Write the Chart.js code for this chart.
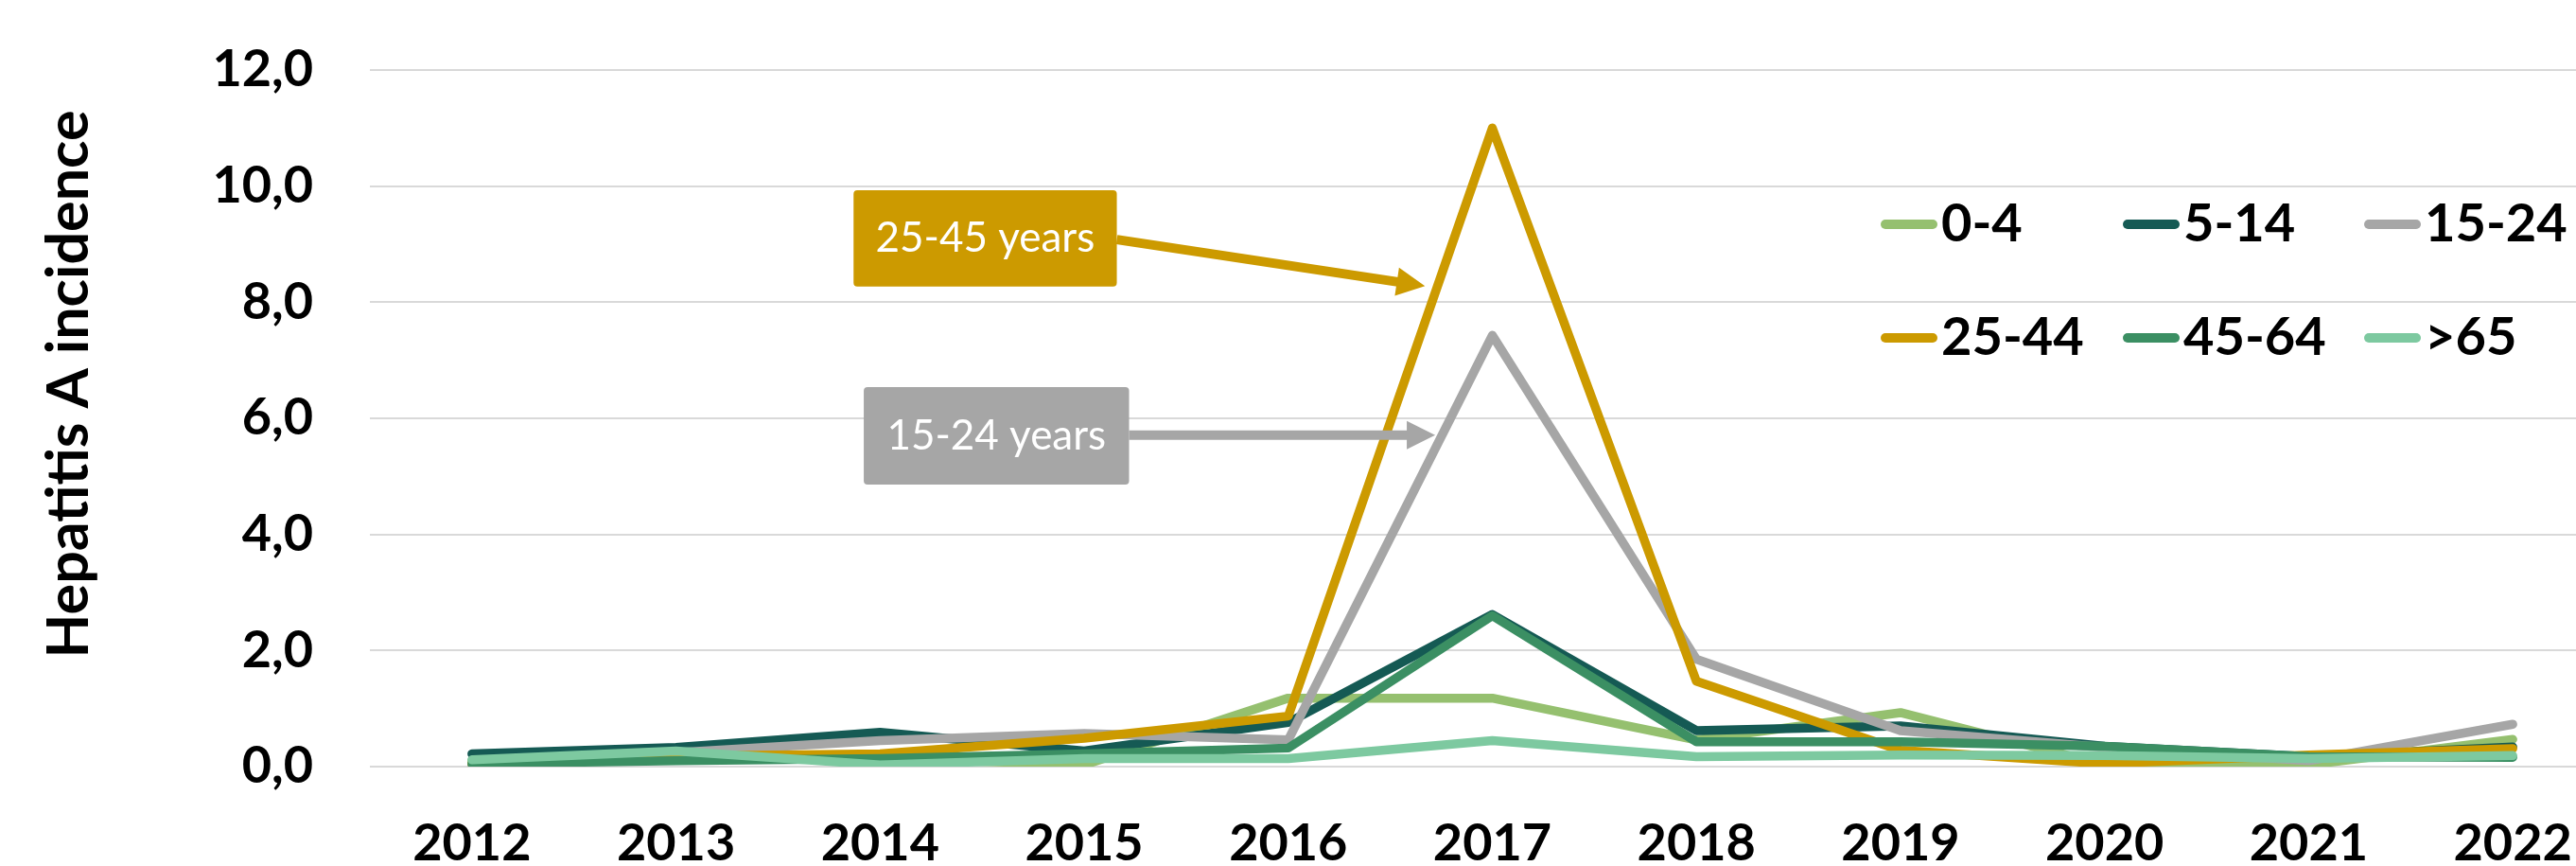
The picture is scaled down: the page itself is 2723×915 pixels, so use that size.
<!DOCTYPE html>
<html>
<head>
<meta charset="utf-8">
<title>Hepatitis A incidence by age group</title>
<script src="https://cdn.jsdelivr.net/npm/chart.js@4.4.1/dist/chart.umd.min.js"></script>
<style>
  html, body { margin: 0; padding: 0; background: #fff; }
  #wrap { position: relative; width: 2723px; height: 915px; }
</style>
</head>
<body>
<div id="wrap"><canvas id="hepa-chart"></canvas></div>
<script>
// data
var years = [2012, 2013, 2014, 2015, 2016, 2017, 2018, 2019, 2020, 2021, 2022];
var yearLabels = ['2012', '2013', '2014', '2015', '2016', '2017', '2018', '2019', '2020', '2021', '2022'];
var groups = ['0-4', '5-14', '15-24', '25-44', '45-64', '>65'];
var inc0to4   = [0.10, 0.25, 0.15, 0.03, 1.18, 1.18, 0.46, 0.93, 0.03, 0.03, 0.47];
var inc5to14  = [0.22, 0.33, 0.59, 0.27, 0.76, 2.62, 0.62, 0.70, 0.35, 0.17, 0.34];
var inc15to24 = [0.02, 0.24, 0.45, 0.57, 0.46, 7.43, 1.85, 0.62, 0.33, 0.10, 0.73];
var inc25to44 = [0.05, 0.18, 0.22, 0.49, 0.87, 11.0, 1.47, 0.28, 0.05, 0.20, 0.31];
var inc45to64 = [0.05, 0.10, 0.14, 0.22, 0.32, 2.60, 0.43, 0.43, 0.35, 0.17, 0.16];
var incOver65 = [0.12, 0.27, 0.03, 0.14, 0.14, 0.45, 0.17, 0.20, 0.19, 0.14, 0.19];
var yTickLabels = ['0,0', '2,0', '4,0', '6,0', '8,0', '10,0', '12,0'];

var series = [inc0to4, inc5to14, inc15to24, inc25to44, inc45to64, incOver65];
var lineColors = ['#95C06F', '#155A54', '#A6A6A6', '#CC9A00', '#3B8F63', '#7DC9A0'];

// callouts, placed in data units
var callouts = [
    {text: '25-45 years', color: '#CC9A00', box: [2013.87, 9.93, 2015.16, 8.27], from: [2015.16, 9.08], to: [2016.67, 8.28]},
    {text: '15-24 years', color: '#A6A6A6', box: [2013.92, 6.54, 2015.22, 4.86], from: [2015.22, 5.71], to: [2016.72, 5.71]}
];

var datasets = groups.map(function (name, i) {
    return {
        label: name,
        data: years.map(function (yr, j) { return {x: yr, y: series[i][j]}; }),
        borderColor: lineColors[i],
        backgroundColor: lineColors[i],
        borderWidth: 9.5,
        pointRadius: 0,
        pointHoverRadius: 0,
        tension: 0,
        borderCapStyle: 'round',
        borderJoinStyle: 'round',
        order: groups.length - i
    };
});

function drawArrow(ctx, x1, y1, x2, y2, color) {
    var ang = Math.atan2(y2 - y1, x2 - x1), head = 30, half = 15;
    var bx = x2 - head * Math.cos(ang), by = y2 - head * Math.sin(ang);
    ctx.strokeStyle = color;
    ctx.lineWidth = 10;
    ctx.lineCap = 'butt';
    ctx.beginPath(); ctx.moveTo(x1, y1); ctx.lineTo(bx + Math.cos(ang), by + Math.sin(ang)); ctx.stroke();
    ctx.fillStyle = color;
    ctx.beginPath();
    ctx.moveTo(x2, y2);
    ctx.lineTo(bx + half * Math.sin(ang), by - half * Math.cos(ang));
    ctx.lineTo(bx - half * Math.sin(ang), by + half * Math.cos(ang));
    ctx.closePath();
    ctx.fill();
}

var overlay = {
    id: 'overlay',
    afterDraw: function (chart) {
        var ctx = chart.ctx, xs = chart.scales.x, ys = chart.scales.y;
        ctx.save();

        // y axis title
        ctx.save();
        ctx.translate(73, 406);
        ctx.rotate(-Math.PI / 2);
        ctx.font = 'bold 61px Lato';
        ctx.fillStyle = '#000';
        ctx.textAlign = 'center';
        ctx.textBaseline = 'middle';
        ctx.fillText('Hepatitis A incidence', 0, 0);
        ctx.restore();

        // callout boxes + arrows
        callouts.forEach(function (c) {
            var l = xs.getPixelForValue(c.box[0]), t = ys.getPixelForValue(c.box[1]);
            var r = xs.getPixelForValue(c.box[2]), b = ys.getPixelForValue(c.box[3]);
            ctx.fillStyle = c.color;
            ctx.beginPath();
            ctx.roundRect(l, t, r - l, b - t, 4);
            ctx.fill();
            ctx.fillStyle = '#fff';
            ctx.font = '44px Lato';
            ctx.textAlign = 'center';
            ctx.textBaseline = 'middle';
            ctx.fillText(c.text, (l + r) / 2, (t + b) / 2);
            drawArrow(ctx, xs.getPixelForValue(c.from[0]), ys.getPixelForValue(c.from[1]),
                xs.getPixelForValue(c.to[0]), ys.getPixelForValue(c.to[1]), c.color);
        });

        // legend, 3 columns x 2 rows
        var cols = [1988, 2244, 2499], rows = [237, 357];
        ctx.font = 'bold 56px Lato';
        ctx.textAlign = 'left';
        ctx.textBaseline = 'middle';
        chart.data.datasets.forEach(function (ds, i) {
            var lx = cols[i % 3], ly = rows[Math.floor(i / 3)];
            ctx.strokeStyle = ds.borderColor;
            ctx.lineWidth = 10;
            ctx.lineCap = 'round';
            ctx.beginPath(); ctx.moveTo(lx + 5, ly); ctx.lineTo(lx + 55, ly); ctx.stroke();
            ctx.fillStyle = '#000';
            ctx.fillText(ds.label, lx + 64, ly);
        });
        ctx.restore();
    }
};

var ctx = document.getElementById('hepa-chart').getContext('2d');
var chart = new Chart(ctx, {
    type: 'line',
    data: {datasets: datasets},
    plugins: [overlay],
    options: {
        responsive: true,
        maintainAspectRatio: false,
        animation: false,
        layout: {padding: {top: 74, right: 0, bottom: 0, left: 0}},
        plugins: {legend: {display: false}, tooltip: {enabled: false}},
        scales: {
            x: {
                type: 'linear',
                min: 2011.5,
                max: 2022.31,
                border: {display: false},
                grid: {drawOnChartArea: false, drawTicks: true, tickLength: 49, tickColor: 'rgba(0,0,0,0)', color: 'rgba(0,0,0,0)'},
                ticks: {
                    stepSize: 1,
                    includeBounds: false,
                    padding: 0,
                    maxRotation: 0,
                    autoSkip: false,
                    color: '#000',
                    font: {family: 'Lato', size: 54, weight: 'bold'},
                    callback: function (value) {
                        var i = years.indexOf(value);
                        return i >= 0 ? yearLabels[i] : '';
                    }
                },
                afterFit: function (scale) { scale.height = 105; }
            },
            y: {
                min: 0,
                max: 12,
                border: {display: false},
                grid: {color: '#D9D9D9', lineWidth: 2, drawTicks: true, tickLength: 60, tickColor: 'rgba(0,0,0,0)'},
                ticks: {
                    stepSize: 2,
                    padding: 0,
                    color: '#000',
                    font: {family: 'Lato', size: 54, weight: 'bold'},
                    callback: function (value, index) { return yTickLabels[index]; }
                },
                afterFit: function (scale) { scale.width = 391; }
            }
        }
    }
});
</script>
</body>
</html>
